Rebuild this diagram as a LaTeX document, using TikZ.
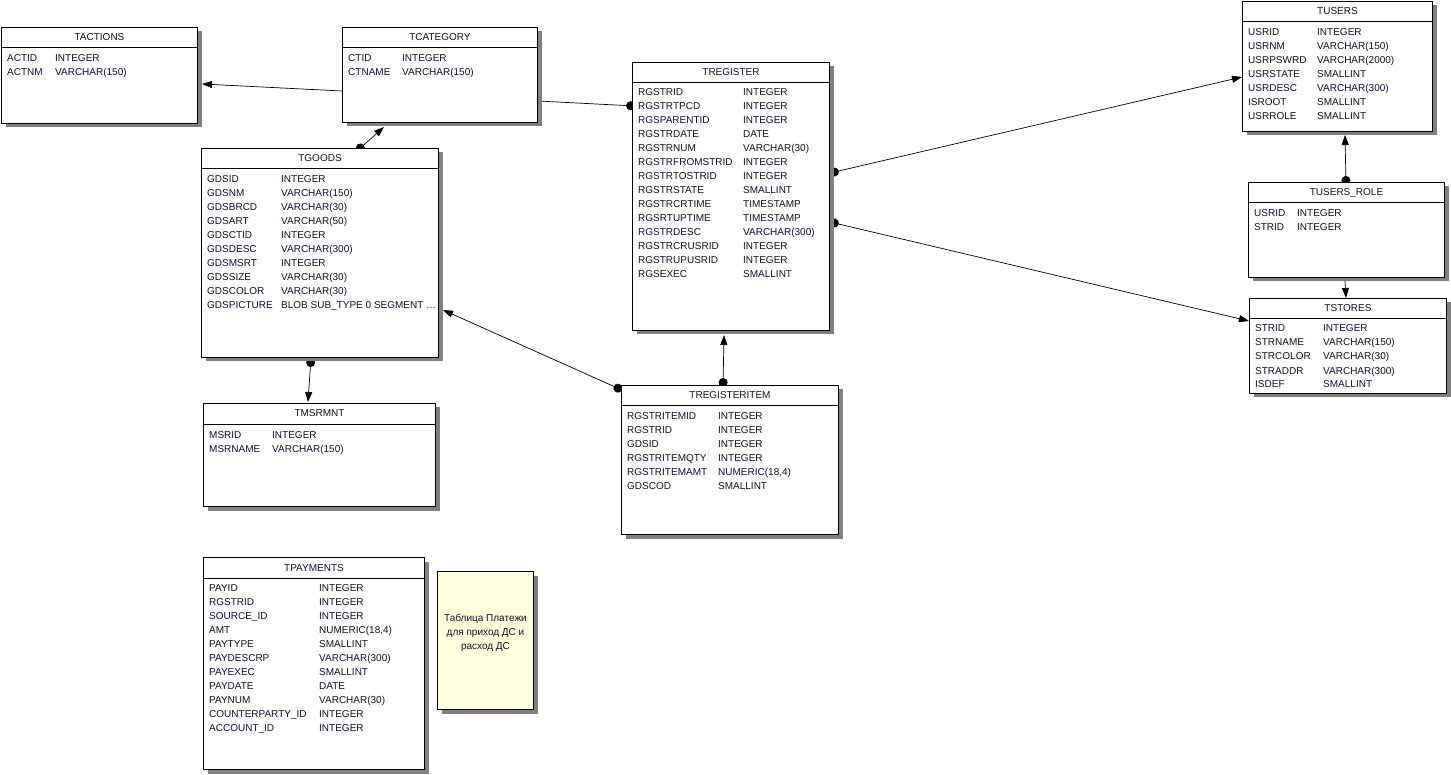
\documentclass[tikz,border=0pt]{standalone}
\usepackage{fontspec}
\setmainfont{Liberation Sans}
\usetikzlibrary{arrows.meta,calc,shadows,backgrounds}
\definecolor{ink}{HTML}{101030}
\definecolor{shade}{HTML}{808080}
\definecolor{memo}{HTML}{FFFFDD}
\tikzset{
  tbl/.style={draw=black, fill=white, line width=1pt, anchor=north west, inner sep=0pt,
              drop shadow={shadow xshift=4pt, shadow yshift=-4pt, fill=shade, opacity=1}},
  ttl/.style={anchor=base, text=ink, inner sep=0pt},
  fld/.style={anchor=base west, text=ink, inner sep=0pt},
  link/.style={draw=black, line width=0.7pt},
  ref/.style={link, -{Triangle[length=10pt,width=7pt]}},
  fk/.style={link, {Circle[length=9pt]}-{Triangle[length=10pt,width=7pt]}},
  fkend/.style={link, {Circle[length=9pt]}-}
}
\begin{document}
\begin{tikzpicture}[x=1pt,y=-1pt,font=\fontsize{10}{14}\selectfont]
    \useasboundingbox (0,0) rectangle (1451,775);

    % TACTIONS
    \node[tbl,minimum width=196pt,minimum height=96pt] (tact) at (1,27) {};
    \draw[line width=1pt] ($(tact.north west)+(0,21)$) -- ($(tact.north east)+(0,21)$);
    \node[ttl] (tact-title) at ($(tact.north)+(0,14)$) {TACTIONS};
    \foreach \f/\t [count=\i from 0] in {ACTID/INTEGER,ACTNM/VARCHAR(150)} {
      \node[fld] (tact-f\i) at ($(tact.north west)+(6,35+14*\i)$) {\f};
      \node[fld] (tact-t\i) at ($(tact.north west)+(54,35+14*\i)$) {\t};
    }

    % TCATEGORY
    \node[tbl,minimum width=195pt,minimum height=95pt] (tcat) at (342,27) {};
    \draw[line width=1pt] ($(tcat.north west)+(0,21)$) -- ($(tcat.north east)+(0,21)$);
    \node[ttl] (tcat-title) at ($(tcat.north)+(0,14)$) {TCATEGORY};
    \foreach \f/\t [count=\i from 0] in {CTID/INTEGER,CTNAME/VARCHAR(150)} {
      \node[fld] (tcat-f\i) at ($(tcat.north west)+(6,35+14*\i)$) {\f};
      \node[fld] (tcat-t\i) at ($(tcat.north west)+(60,35+14*\i)$) {\t};
    }

    % TGOODS
    \node[tbl,minimum width=237pt,minimum height=209pt] (tgoods) at (201,148) {};
    \draw[line width=1pt] ($(tgoods.north west)+(0,21)$) -- ($(tgoods.north east)+(0,21)$);
    \node[ttl] (tgoods-title) at ($(tgoods.north)+(0,14)$) {TGOODS};
    \foreach \f/\t [count=\i from 0] in {GDSID/INTEGER,GDSNM/VARCHAR(150),GDSBRCD/VARCHAR(30),
        GDSART/VARCHAR(50),GDSCTID/INTEGER,GDSDESC/VARCHAR(300),GDSMSRT/INTEGER,
        GDSSIZE/VARCHAR(30),GDSCOLOR/VARCHAR(30),GDSPICTURE/BLOB SUB\_TYPE 0 SEGMENT \dots} {
      \node[fld] (tgoods-f\i) at ($(tgoods.north west)+(6,35+14*\i)$) {\f};
      \node[fld] (tgoods-t\i) at ($(tgoods.north west)+(80,35+14*\i)$) {\t};
    }

    % TMSRMNT
    \node[tbl,minimum width=232pt,minimum height=103pt] (tmsr) at (203,403) {};
    \draw[line width=1pt] ($(tmsr.north west)+(0,21)$) -- ($(tmsr.north east)+(0,21)$);
    \node[ttl] (tmsr-title) at ($(tmsr.north)+(0,14)$) {TMSRMNT};
    \foreach \f/\t [count=\i from 0] in {MSRID/INTEGER,MSRNAME/VARCHAR(150)} {
      \node[fld] (tmsr-f\i) at ($(tmsr.north west)+(6,35+14*\i)$) {\f};
      \node[fld] (tmsr-t\i) at ($(tmsr.north west)+(69,35+14*\i)$) {\t};
    }

    % TREGISTER
    \node[tbl,minimum width=197pt,minimum height=268pt] (treg) at (632,62) {};
    \draw[line width=1pt] ($(treg.north west)+(0,21)$) -- ($(treg.north east)+(0,21)$);
    \node[ttl] (treg-title) at ($(treg.north)+(0,14)$) {TREGISTER};
    \foreach \f/\t [count=\i from 0] in {RGSTRID/INTEGER,RGSTRTPCD/INTEGER,RGSPARENTID/INTEGER,
        RGSTRDATE/DATE,RGSTRNUM/VARCHAR(30),RGSTRFROMSTRID/INTEGER,RGSTRTOSTRID/INTEGER,
        RGSTRSTATE/SMALLINT,RGSTRCRTIME/TIMESTAMP,RGSRTUPTIME/TIMESTAMP,RGSTRDESC/VARCHAR(300),
        RGSTRCRUSRID/INTEGER,RGSTRUPUSRID/INTEGER,RGSEXEC/SMALLINT} {
      \node[fld] (treg-f\i) at ($(treg.north west)+(6,34+14*\i)$) {\f};
      \node[fld] (treg-t\i) at ($(treg.north west)+(111,34+14*\i)$) {\t};
    }

    % TREGISTERITEM
    \node[tbl,minimum width=217pt,minimum height=149pt] (tregi) at (621,385) {};
    \draw[line width=1pt] ($(tregi.north west)+(0,21)$) -- ($(tregi.north east)+(0,21)$);
    \node[ttl] (tregi-title) at ($(tregi.north)+(0,14)$) {TREGISTERITEM};
    \foreach \f/\t [count=\i from 0] in {RGSTRITEMID/INTEGER,RGSTRID/INTEGER,GDSID/INTEGER,
        RGSTRITEMQTY/INTEGER,RGSTRITEMAMT/{NUMERIC(18,4)},GDSCOD/SMALLINT} {
      \node[fld] (tregi-f\i) at ($(tregi.north west)+(6,34+14*\i)$) {\f};
      \node[fld] (tregi-t\i) at ($(tregi.north west)+(97,34+14*\i)$) {\t};
    }

    % TUSERS
    \node[tbl,minimum width=190pt,minimum height=130pt] (tusers) at (1242,1) {};
    \draw[line width=1pt] ($(tusers.north west)+(0,21)$) -- ($(tusers.north east)+(0,21)$);
    \node[ttl] (tusers-title) at ($(tusers.north)+(0,14)$) {TUSERS};
    \foreach \f/\t [count=\i from 0] in {USRID/INTEGER,USRNM/VARCHAR(150),USRPSWRD/VARCHAR(2000),
        USRSTATE/SMALLINT,USRDESC/VARCHAR(300),ISROOT/SMALLINT,USRROLE/SMALLINT} {
      \node[fld] (tusers-f\i) at ($(tusers.north west)+(6,35+14*\i)$) {\f};
      \node[fld] (tusers-t\i) at ($(tusers.north west)+(75,35+14*\i)$) {\t};
    }

    % TUSERS_ROLE
    \node[tbl,minimum width=196pt,minimum height=95pt] (turole) at (1248,182) {};
    \draw[line width=1pt] ($(turole.north west)+(0,21)$) -- ($(turole.north east)+(0,21)$);
    \node[ttl] (turole-title) at ($(turole.north)+(0,14)$) {TUSERS\_ROLE};
    \foreach \f/\t [count=\i from 0] in {USRID/INTEGER,STRID/INTEGER} {
      \node[fld] (turole-f\i) at ($(turole.north west)+(6,35+14*\i)$) {\f};
      \node[fld] (turole-t\i) at ($(turole.north west)+(49,35+14*\i)$) {\t};
    }

    % TSTORES
    \node[tbl,minimum width=197pt,minimum height=95pt] (tstores) at (1249,298) {};
    \draw[line width=1pt] ($(tstores.north west)+(0,21)$) -- ($(tstores.north east)+(0,21)$);
    \node[ttl] (tstores-title) at ($(tstores.north)+(0,14)$) {TSTORES};
    \foreach \f/\t [count=\i from 0] in {STRID/INTEGER,STRNAME/VARCHAR(150),STRCOLOR/VARCHAR(30),
        STRADDR/VARCHAR(300),ISDEF/SMALLINT} {
      \node[fld] (tstores-f\i) at ($(tstores.north west)+(6,34+14*\i)$) {\f};
      \node[fld] (tstores-t\i) at ($(tstores.north west)+(74,34+14*\i)$) {\t};
    }

    % TPAYMENTS
    \node[tbl,minimum width=221pt,minimum height=212pt] (tpay) at (203,557) {};
    \draw[line width=1pt] ($(tpay.north west)+(0,21)$) -- ($(tpay.north east)+(0,21)$);
    \node[ttl] (tpay-title) at ($(tpay.north)+(0,14)$) {TPAYMENTS};
    \foreach \f/\t [count=\i from 0] in {PAYID/INTEGER,RGSTRID/INTEGER,SOURCE\_ID/INTEGER,
        AMT/{NUMERIC(18,4)},PAYTYPE/SMALLINT,PAYDESCRP/VARCHAR(300),PAYEXEC/SMALLINT,
        PAYDATE/DATE,PAYNUM/VARCHAR(30),COUNTERPARTY\_ID/INTEGER,ACCOUNT\_ID/INTEGER} {
      \node[fld] (tpay-f\i) at ($(tpay.north west)+(6,34+14*\i)$) {\f};
      \node[fld] (tpay-t\i) at ($(tpay.north west)+(116,34+14*\i)$) {\t};
    }

    % note
    \node[tbl,fill=memo,minimum width=96pt,minimum height=138pt] (memo) at (437,571) {};
    \node[align=center,text=ink,inner sep=0pt] (memo-txt) at ($(memo.center)+(0,-8)$)
      {Таблица Платежи\\для приход ДС и\\расход ДС};

    % relations
    \begin{scope}[on background layer]
      \draw[ref] ($(tcat.north west)+(0,64)$) -- ($(tact.north east)+(4,57)$);
      \draw[fk] ($(tgoods.north west)+(156,3)$) -- ($(tcat.south west)+(42,4)$);
      \draw[fkend] ($(treg.north west)+(3,44)$) -- ($(tcat.north east)+(0,74)$);
      \draw[fk] ($(tregi.north west)+(1,5)$) -- ($(tgoods.north east)+(4,162)$);
      \draw[fk] ($(tgoods.south west)+(110,0)$) -- ($(tmsr.north west)+(105,-1)$);
      \draw[fk] ($(tregi.north west)+(102,2)$) -- ($(treg.south west)+(92,4)$);
      \draw[fk] ($(treg.north east)+(0,111)$) -- ($(tusers.north west)+(0,76)$);
      \draw[fk] ($(treg.north east)+(0,160)$) -- ($(tstores.north west)+(0,23)$);
      \draw[fk] ($(turole.north west)+(98,3)$) -- ($(tusers.south west)+(103,3)$);
      \draw[ref] ($(turole.south west)+(97,3)$) -- ($(tstores.north west)+(97,0)$);
    \end{scope}
\end{tikzpicture}
\end{document}
